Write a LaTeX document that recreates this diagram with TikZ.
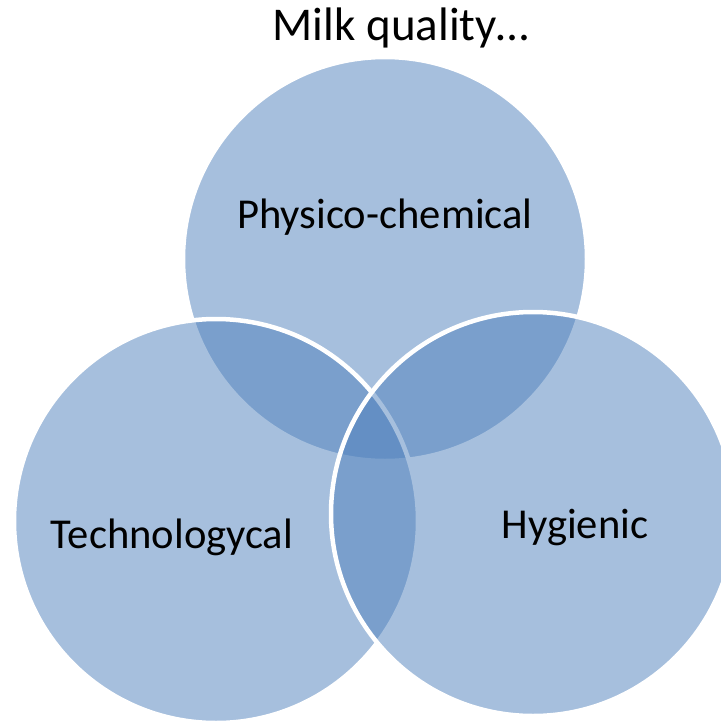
\documentclass[tikz,border=0pt]{standalone}
\usepackage{fontspec}
\setmainfont{Carlito}
\begin{document}
\begin{tikzpicture}[x=1pt,y=-1pt,
  venn/.style={fill={rgb,255:red,79;green,129;blue,189},fill opacity=0.5,draw=white,draw opacity=1,line width=4.5pt},
  lbl/.style={font=\fontsize{42.6}{48}\selectfont,text=black,inner sep=0pt}]
\useasboundingbox (0,0) rectangle (721,724);
\clip (0,0) rectangle (721,724);
\fill[white] (0,0) rectangle (721,724);
\draw[venn] (385,259) circle[radius=202];
\draw[venn] (216,521) circle[radius=202];
\draw[venn] (533,514) circle[radius=202];
\node[lbl,font=\fontsize{47}{54}\selectfont] (title) at (401,28) {Milk quality…};
\node[lbl] (phys) at (385,217) {Physico-chemical};
\node[lbl] (tech) at (172,537) {Technologycal};
\node[lbl] (hyg) at (575,527) {Hygienic};
\end{tikzpicture}
\end{document}
